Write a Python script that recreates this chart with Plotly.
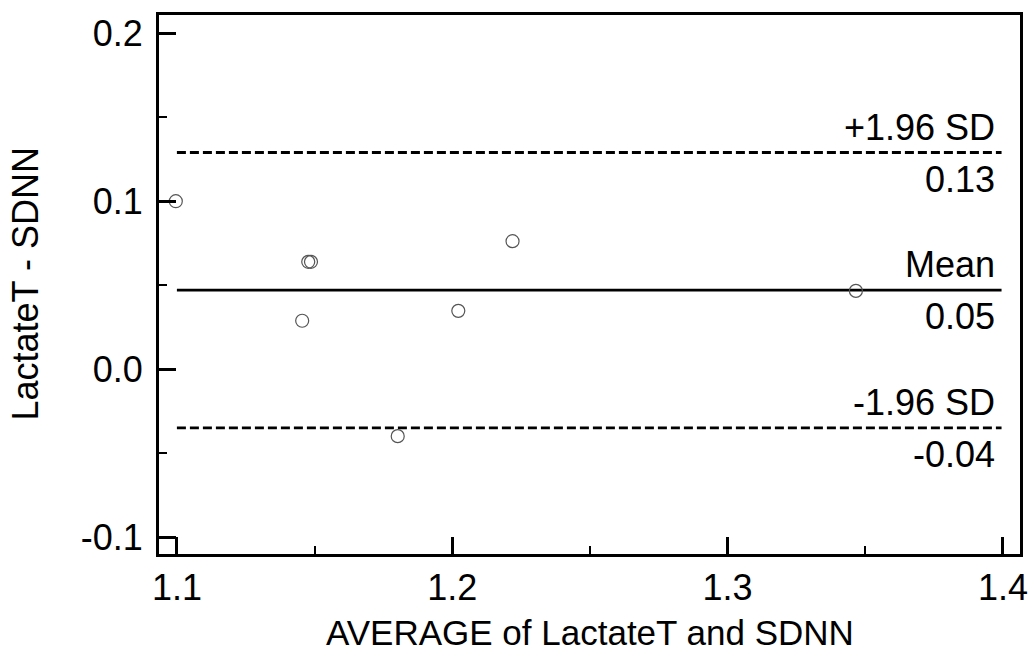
import plotly.graph_objects as go

# Data
avg_vals = [1.0996, 1.1477, 1.1487, 1.1455, 1.1802, 1.2022, 1.2219, 1.3466]
diff_vals = [0.100, 0.0639, 0.0639, 0.0288, -0.0399, 0.0347, 0.0762, 0.0466]
mean_diff = 0.047
upper_loa = 0.129
lower_loa = -0.035
line_labels = ["+1.96 SD", "Mean", "-1.96 SD"]
value_labels = ["0.13", "0.05", "-0.04"]
x_ticks = [1.1, 1.2, 1.3, 1.4]
x_ticktext = ["1.1", "1.2", "1.3", "1.4"]
y_ticks = [-0.1, 0.0, 0.1, 0.2]
y_ticktext = ["-0.1", "0.0", "0.1", "0.2"]
x_title = "AVERAGE of LactateT and SDNN"
y_title = "LactateT - SDNN"

FONT = "Liberation Sans, Arial, sans-serif"
FS = 36

fig = go.Figure()

x_line = [1.1, 1.3995]
for yv, dash in [(upper_loa, "dash"), (mean_diff, "solid"), (lower_loa, "dash")]:
    fig.add_trace(go.Scatter(
        x=x_line, y=[yv, yv], mode="lines",
        line=dict(color="black", width=2.8, dash="9px,4px" if dash == "dash" else "solid"),
        hoverinfo="skip", showlegend=False))

fig.add_trace(go.Scatter(
    x=avg_vals, y=diff_vals, mode="markers",
    marker=dict(symbol="circle-open", size=13, color="#555555", line=dict(width=1.2)),
    showlegend=False))

for yv, lab, val in zip([upper_loa, mean_diff, lower_loa], line_labels, value_labels):
    fig.add_annotation(x=1.398, y=yv, text=lab, showarrow=False,
                       xanchor="right", yanchor="bottom", yshift=3,
                       font=dict(family=FONT, size=FS, color="black"))
    fig.add_annotation(x=1.398, y=yv, text=val, showarrow=False,
                       xanchor="right", yanchor="top", yshift=-4,
                       font=dict(family=FONT, size=FS, color="black"))

# axis titles as annotations in paper coordinates
fig.add_annotation(x=0.5, y=0, xref="paper", yref="paper", text=x_title, showarrow=False,
                   xanchor="center", yanchor="top", yshift=-57,
                   font=dict(family=FONT, size=35, color="black"))
fig.add_annotation(x=0, y=0.5, xref="paper", yref="paper", text=y_title, showarrow=False,
                   textangle=-90, xanchor="center", yanchor="middle", xshift=-134,
                   font=dict(family=FONT, size=FS, color="black"))

axis_common = dict(
    showline=True, linecolor="black", linewidth=3, mirror=True,
    ticks="inside", ticklen=17, tickwidth=2.5, tickcolor="black",
    showgrid=False, zeroline=False, automargin=False,
    tickfont=dict(family=FONT, size=FS, color="black"),
)

fig.update_xaxes(
    range=[1.0935, 1.4062], tickvals=x_ticks, ticktext=x_ticktext,
    minor=dict(ticks="inside", ticklen=8, tickwidth=2, tickcolor="black", dtick=0.05, tick0=1.1),
    ticklabelstandoff=0,
    **axis_common)
fig.update_yaxes(
    range=[-0.1101, 0.2109], tickvals=y_ticks, ticktext=y_ticktext,
    minor=dict(ticks="inside", ticklen=8, tickwidth=2, tickcolor="black", dtick=0.05, tick0=0),
    ticklabelstandoff=6,
    **axis_common)

fig.update_layout(
    width=1028, height=653,
    margin=dict(l=159, r=8, t=15, b=99),
    paper_bgcolor="white", plot_bgcolor="white",
)

fig.write_html("out.html")
